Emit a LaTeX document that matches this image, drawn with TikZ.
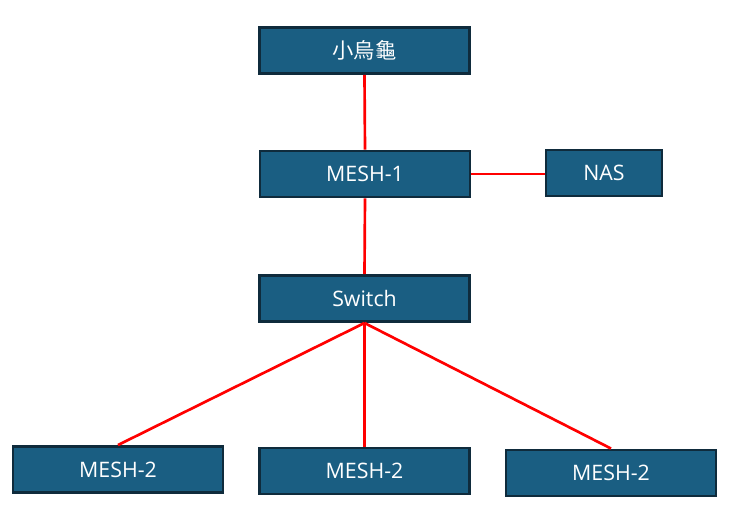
\documentclass[tikz,border=0pt]{standalone}
\usepackage{fontspec}
\setmainfont{Open Sans}
\newfontfamily\cjk{Noto Sans CJK TC}
\begin{document}
\begin{tikzpicture}[x=0.75pt,y=-0.75pt,
  box/.style={draw=boxline,line width=2.2pt,fill=boxfill,text=white,minimum width=157.5pt,minimum height=34.5pt,inner sep=0pt,font=\fontsize{16}{18}\selectfont},
  link/.style={draw=red,line width=2pt}]
\definecolor{boxfill}{HTML}{1A5E82}
\definecolor{boxline}{HTML}{0F2B3C}
\useasboundingbox (0,0) rectangle (747,519);
\node[box] (top) at (364.5,50.5) {\cjk 小烏龜};
\node[box] (m1) at (365,174) {MESH-1};
\node[box,minimum width=87pt] (nas) at (604,173) {NAS};
\node[box] (sw) at (364.5,298.5) {Switch};
\node[box] (a) at (118,469.5) {MESH-2};
\node[box] (b) at (364.5,471) {MESH-2};
\node[box] (c) at (611,473) {MESH-2};
\draw[link] (top.south) -- (m1.north);
\draw[link] (m1.east) -- (m1.east -| nas.west);
\draw[link] (m1.south) -- (sw.north);
\draw[link] (sw.south) -- (a.north);
\draw[link] (sw.south) -- (b.north);
\draw[link] (sw.south) -- (c.north);
\end{tikzpicture}
\end{document}
